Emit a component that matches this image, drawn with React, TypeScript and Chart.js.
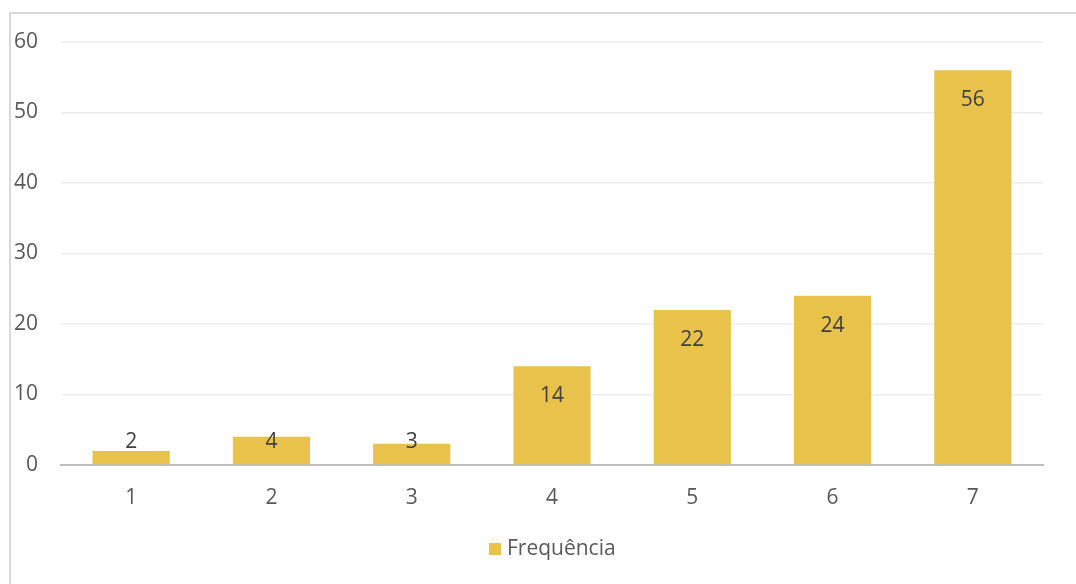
import React, { useEffect, useRef } from "react";
import { Chart, registerables } from "chart.js";

Chart.register(...registerables);

const categories = ["1", "2", "3", "4", "5", "6", "7"];
const frequencia = [2, 4, 3, 14, 22, 24, 56];
const seriesLabel = "Frequência";
const yTicks = [0, 10, 20, 30, 40, 50, 60];

const FONT = "'Open Sans', 'Noto Sans', sans-serif";
const BAR = "#E9C24B";
const FS = 21;

const labelPlugin = {
  id: "barLabels",
  afterDatasetsDraw(chart: any) {
    const ctx = chart.ctx;
    const meta = chart.getDatasetMeta(0);
    const yScale = chart.scales.y;
    const base = yScale.getPixelForValue(0);
    ctx.save();
    ctx.font = `${FS}px ${FONT}`;
    ctx.fillStyle = "#404040";
    ctx.textAlign = "center";
    ctx.textBaseline = "middle";
    meta.data.forEach((el: any, i: number) => {
      const v = chart.data.datasets[0].data[i];
      let cy = el.y + 30;
      if (cy > base - 23) cy = base - 23;
      ctx.fillText(String(v), el.x, cy);
    });
    ctx.restore();
  },
};

const legendPlugin = {
  id: "customLegend",
  afterDraw(chart: any) {
    const ctx = chart.ctx;
    const ds = chart.data.datasets[0];
    ctx.save();
    ctx.fillStyle = ds.backgroundColor;
    ctx.fillRect(489, 543, 12, 12);
    ctx.font = `${FS}px ${FONT}`;
    ctx.fillStyle = "#595959";
    ctx.textAlign = "left";
    ctx.textBaseline = "middle";
    ctx.fillText(ds.label, 507, 549);
    ctx.restore();
  },
};

export default function App() {
  const ref = useRef<HTMLCanvasElement | null>(null);
  useEffect(() => {
    if (!ref.current) return;
    const chart = new Chart(ref.current, {
      type: "bar",
      data: {
        labels: categories,
        datasets: [
          {
            label: seriesLabel,
            data: frequencia,
            backgroundColor: BAR,
            borderWidth: 0,
            barPercentage: 0.55,
            categoryPercentage: 1,
          },
        ],
      },
      options: {
        animation: false,
        responsive: false,
        maintainAspectRatio: false,
        layout: { padding: { left: 0, right: 33, top: 42, bottom: 55 } },
        plugins: {
          tooltip: { enabled: false },
          legend: { display: false },
        },
        scales: {
          x: {
            grid: { display: false, drawTicks: false },
            border: { display: true, color: "#BFBFBF", width: 2 },
            ticks: {
              color: "#595959",
              font: { family: FONT, size: FS },
              padding: 20,
            },
            afterFit(scale: any) {
              scale.height = 64;
            },
          },
          y: {
            min: 0,
            max: 60,
            afterBuildTicks(scale: any) {
              scale.ticks = yTicks.map((v) => ({ value: v }));
            },
            grid: { color: "#EEEEEE", lineWidth: 1.5, drawTicks: false },
            border: { display: false },
            ticks: {
              color: "#595959",
              font: { family: FONT, size: FS },
              padding: 23,
            },
            afterFit(scale: any) {
              scale.width = 61;
            },
          },
        },
      },
      plugins: [labelPlugin, legendPlugin],
    });
    return () => chart.destroy();
  }, []);

  return (
    <div
      style={{
        position: "fixed",
        left: 0,
        top: 0,
        width: 1076,
        height: 584,
        background: "#fff",
        overflow: "hidden",
      }}
    >
      <div
        style={{
          position: "absolute",
          left: 9,
          top: 12,
          width: 1200,
          height: 700,
          border: "2px solid #D9D9D9",
          boxSizing: "border-box",
        }}
      />
      <canvas
        ref={ref}
        width={1076}
        height={584}
        style={{ position: "absolute", left: 0, top: 0, width: 1076, height: 584 }}
      />
    </div>
  );
}
